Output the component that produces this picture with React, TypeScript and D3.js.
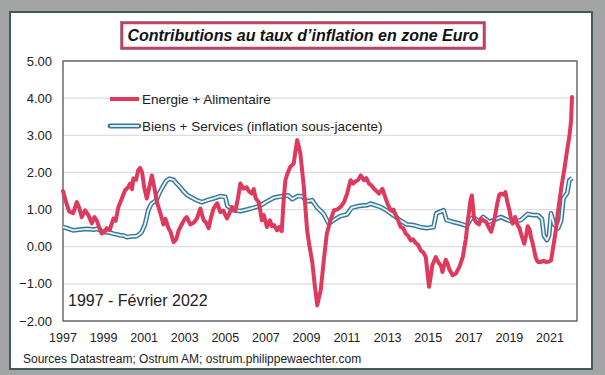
import React from "react";
import * as d3 from "d3";

const titleText = "Contributions au taux d\u2019inflation en zone Euro";
const legendLabels = ["Energie + Alimentaire", "Biens + Services (inflation sous-jacente)"];
const periodLabel = "1997 - Février 2022";
const sourceText = "Sources Datastream; Ostrum AM; ostrum.philippewaechter.com";
const yTicks = [-2, -1, 0, 1, 2, 3, 4, 5];
const xTickYears = [1997, 1999, 2001, 2003, 2005, 2007, 2009, 2011, 2013, 2015, 2017, 2019, 2021];

const energyYears = [
  1997.0, 1997.15, 1997.3, 1997.5, 1997.68, 1997.8, 1997.92, 1998.09, 1998.25, 1998.42, 1998.55, 1998.66, 1998.8, 1998.91,
  1999.05, 1999.16, 1999.3, 1999.49, 1999.6, 1999.73, 1999.9, 2000.06, 2000.2, 2000.31, 2000.4, 2000.47, 2000.6, 2000.7,
  2000.8, 2000.9, 2001.0, 2001.13, 2001.25, 2001.38, 2001.5, 2001.63, 2001.8, 2001.95, 2002.05, 2002.2, 2002.3, 2002.45,
  2002.58, 2002.7, 2002.85, 2003.0, 2003.1, 2003.27, 2003.45, 2003.6, 2003.77, 2003.93, 2004.05, 2004.18, 2004.3, 2004.42,
  2004.6, 2004.75, 2004.9, 2005.08, 2005.2, 2005.33, 2005.5, 2005.62, 2005.74, 2005.9, 2006.05, 2006.15, 2006.3, 2006.4,
  2006.5, 2006.65, 2006.8, 2006.9, 2007.05, 2007.2, 2007.3, 2007.4, 2007.55, 2007.65, 2007.78, 2007.88, 2007.96, 2008.05,
  2008.2, 2008.37, 2008.45, 2008.54, 2008.62, 2008.7, 2008.87, 2009.03, 2009.15, 2009.28, 2009.42, 2009.53, 2009.6, 2009.7,
  2009.85, 2010.0, 2010.18, 2010.35, 2010.5, 2010.68, 2010.85, 2011.0, 2011.17, 2011.3, 2011.4, 2011.55, 2011.67, 2011.83,
  2011.95, 2012.08, 2012.2, 2012.33, 2012.45, 2012.57, 2012.74, 2012.9, 2013.0, 2013.15, 2013.28, 2013.4, 2013.52, 2013.64,
  2013.77, 2013.89, 2014.0, 2014.14, 2014.25, 2014.38, 2014.5, 2014.63, 2014.75, 2014.88, 2014.96, 2015.04, 2015.12, 2015.2,
  2015.37, 2015.53, 2015.62, 2015.7, 2015.86, 2015.95, 2016.03, 2016.2, 2016.36, 2016.53, 2016.7, 2016.85, 2016.95, 2017.0,
  2017.08, 2017.15, 2017.26, 2017.38, 2017.5, 2017.6, 2017.72, 2017.85, 2017.95, 2018.1, 2018.25, 2018.4, 2018.5, 2018.58,
  2018.7, 2018.8, 2018.9, 2019.0, 2019.08, 2019.16, 2019.28, 2019.4, 2019.5, 2019.57, 2019.73, 2019.82, 2019.9, 2020.0,
  2020.06, 2020.14, 2020.22, 2020.3, 2020.4, 2020.56, 2020.68, 2020.8, 2020.95, 2021.05, 2021.13, 2021.21, 2021.3, 2021.38,
  2021.46, 2021.54, 2021.62, 2021.7, 2021.79, 2021.87, 2021.95, 2022.0, 2022.04, 2022.083,
];
const energyValues = [
  1.5, 1.2, 0.95, 0.9, 1.2, 1.05, 0.8, 0.98, 0.85, 0.63, 0.8, 0.71, 0.5, 0.36,
  0.4, 0.5, 0.45, 0.76, 0.7, 1.07, 1.3, 1.52, 1.6, 1.7, 1.55, 1.84, 1.8, 2.05,
  2.12, 2.0, 1.6, 1.3, 1.6, 1.92, 1.6, 1.2, 0.9, 0.6, 0.75, 0.5, 0.4, 0.12,
  0.2, 0.44, 0.6, 0.75, 0.8, 0.6, 0.65, 0.76, 1.03, 0.71, 0.65, 0.5, 0.8, 1.03,
  1.17, 0.93, 0.97, 0.76, 0.9, 1.07, 0.98, 1.3, 1.7, 1.56, 1.6, 1.5, 1.43, 1.55,
  1.3, 1.2, 0.71, 0.85, 0.53, 0.71, 0.55, 0.58, 0.44, 0.53, 0.42, 1.3, 1.79, 1.95,
  2.15, 2.24, 2.55, 2.87, 2.7, 2.5, 1.6, 0.44, 0.0, -0.4, -1.1, -1.58, -1.4, -1.17,
  -0.37, 0.35, 0.71, 0.98, 1.0, 1.07, 1.2, 1.43, 1.79, 1.7, 1.75, 1.8, 1.92, 1.79,
  1.85, 1.7, 1.65, 1.56, 1.5, 1.43, 1.56, 1.3, 1.15, 0.98, 1.0, 0.85, 0.7, 0.53,
  0.5, 0.35, 0.3, 0.17, 0.2, 0.1, 0.05, -0.1, -0.15, -0.28, -0.7, -1.08, -0.8, -0.5,
  -0.28, -0.45, -0.5, -0.68, -0.35, -0.45, -0.6, -0.77, -0.72, -0.55, -0.28, 0.2, 0.7, 0.9,
  1.25, 1.38, 0.75, 0.65, 0.6, 0.76, 0.7, 0.67, 0.55, 0.4, 0.71, 1.16, 1.4, 1.43,
  1.4, 1.47, 1.2, 0.98, 0.75, 0.62, 0.8, 0.58, 0.5, 0.35, 0.08, 0.3, 0.55, 0.45,
  0.26, 0.1, -0.1, -0.3, -0.41, -0.41, -0.38, -0.41, -0.4, -0.37, -0.1, 0.17, 0.5, 0.9,
  1.2, 1.52, 1.8, 2.06, 2.4, 2.69, 2.95, 3.2, 3.4, 4.03,
];

const coreYears = [
  1997.0, 1997.3, 1997.5, 1997.8, 1998.2, 1998.5, 1998.66, 1999.0, 1999.3, 1999.5, 1999.8, 2000.0, 2000.15, 2000.4,
  2000.6, 2000.75, 2000.88, 2001.0, 2001.05, 2001.2, 2001.35, 2001.46, 2001.6, 2001.75, 2001.95, 2002.1, 2002.25, 2002.45,
  2002.6, 2002.7, 2002.93, 2003.1, 2003.35, 2003.6, 2003.85, 2004.1, 2004.42, 2004.75, 2005.0, 2005.1, 2005.4, 2005.75,
  2006.05, 2006.4, 2006.7, 2007.0, 2007.4, 2007.8, 2008.1, 2008.3, 2008.55, 2008.8, 2009.0, 2009.28, 2009.5, 2009.85,
  2010.1, 2010.35, 2010.65, 2011.0, 2011.23, 2011.6, 2012.0, 2012.15, 2012.66, 2012.93, 2013.28, 2013.61, 2013.94, 2014.27,
  2014.6, 2014.93, 2015.26, 2015.4, 2015.76, 2015.9, 2016.2, 2016.57, 2016.9, 2017.1, 2017.23, 2017.5, 2017.7, 2018.0,
  2018.25, 2018.58, 2018.9, 2019.2, 2019.57, 2019.9, 2020.15, 2020.4, 2020.6, 2020.7, 2020.85, 2020.95, 2021.05, 2021.2,
  2021.4, 2021.55, 2021.66, 2021.85, 2021.95, 2022.083,
];
const coreValues = [
  0.53, 0.48, 0.44, 0.46, 0.48, 0.46, 0.48, 0.4, 0.38, 0.35, 0.31, 0.3, 0.26, 0.28,
  0.28, 0.33, 0.4, 0.55, 0.62, 0.98, 1.15, 1.2, 1.25, 1.45, 1.65, 1.78, 1.83, 1.8,
  1.7, 1.65, 1.5, 1.4, 1.32, 1.25, 1.2, 1.25, 1.3, 1.36, 1.34, 1.1, 0.98, 0.96,
  1.0, 1.05, 1.1, 1.2, 1.32, 1.36, 1.38, 1.28, 1.36, 1.36, 1.22, 1.25, 1.07, 0.88,
  0.62, 0.72, 0.82, 0.87, 1.05, 1.1, 1.12, 1.16, 1.07, 0.98, 0.85, 0.71, 0.6, 0.58,
  0.53, 0.5, 0.53, 0.9, 0.98, 0.72, 0.67, 0.62, 0.56, 0.75, 0.8, 0.67, 0.8, 0.67,
  0.72, 0.8, 0.72, 0.67, 0.72, 0.88, 0.85, 0.85, 0.75, 0.3, 0.18, 0.3, 0.9, 0.6,
  0.5, 0.7, 1.3, 1.45, 1.78, 1.85,
];

const FONT = "'Liberation Sans', Arial, sans-serif";
const RED = "#de3a5e";
const BLUE_OUT = "#3a7896";
const BLUE_IN = "#e4f3f8";

export default function App() {
  const W = 605, H = 375;
  const left = 63, right = 577, top = 61, bottom = 321;
  const x = d3.scaleLinear().domain([1997, 2022.33]).range([left, right]);
  const y = d3.scaleLinear().domain([-2, 5]).range([bottom, top]);

  const line = d3.line<[number, number]>().x((d) => x(d[0])).y((d) => y(d[1])).curve(d3.curveLinear);
  const energyPath = line(energyYears.map((t, i) => [t, energyValues[i]]) as [number, number][]) || "";
  const corePath = line(coreYears.map((t, i) => [t, coreValues[i]]) as [number, number][]) || "";

  return (
    <svg width={W} height={H} style={{ position: "absolute", left: 0, top: 0 }} fontFamily={FONT}>
      <rect x={0} y={0} width={W} height={H} fill="#a3a5a5" />
      <rect x={10} y={12} width={582} height={357} fill="#ffffff" stroke="#44595a" strokeWidth={2} />
      {/* title */}
      <rect x={122} y={23} width={362} height={25} fill="#ffffff" stroke="#c2415f" strokeWidth={2.5} />
      <rect x={120.5} y={21.5} width={365} height={28} fill="none" stroke="#7a4a55" strokeWidth={0.6} />
      <text x={303} y={41} textAnchor="middle" fontSize={16} fontWeight="bold" fontStyle="italic" fill="#111">
        {titleText}
      </text>
      {/* grid */}
      {yTicks.map((v) => (
        <line key={"g" + v} x1={left} x2={right} y1={y(v)} y2={y(v)} stroke="#dedede" strokeWidth={1.2} />
      ))}
      {yTicks.map((v) => (
        <text key={"yl" + v} x={52} y={y(v) + 4.5} textAnchor="end" fontSize={13} fill="#222">
          {d3.format(".2f")(v)}
        </text>
      ))}
      {xTickYears.map((yr) => (
        <text key={"xl" + yr} x={x(yr)} y={342} textAnchor="middle" fontSize={12.5} fill="#222">
          {yr}
        </text>
      ))}
      <rect x={left} y={top} width={right - left} height={bottom - top} fill="none" stroke="#555" strokeWidth={1.3} />
      {/* series */}
      <path d={corePath} fill="none" stroke={BLUE_OUT} strokeWidth={4.8} strokeLinejoin="round" />
      <path d={corePath} fill="none" stroke={BLUE_IN} strokeWidth={1.9} strokeLinejoin="round" />
      <path d={energyPath} fill="none" stroke={RED} strokeWidth={4} strokeLinejoin="round" strokeLinecap="round" />
      {/* legend */}
      <line x1={110} x2={139} y1={99} y2={99} stroke={RED} strokeWidth={4} />
      <text x={142} y={103.5} fontSize={13.5} fill="#222">{legendLabels[0]}</text>
      <line x1={110} x2={139} y1={126} y2={126} stroke={BLUE_OUT} strokeWidth={4.8} strokeLinecap="round" />
      <line x1={110} x2={139} y1={126} y2={126} stroke={BLUE_IN} strokeWidth={1.9} />
      <text x={142} y={130.5} fontSize={13.5} fill="#222">{legendLabels[1]}</text>
      <text x={68} y={306} fontSize={16} fill="#222">{periodLabel}</text>
      <text x={23} y={363} fontSize={12} fill="#222">{sourceText}</text>
    </svg>
  );
}
